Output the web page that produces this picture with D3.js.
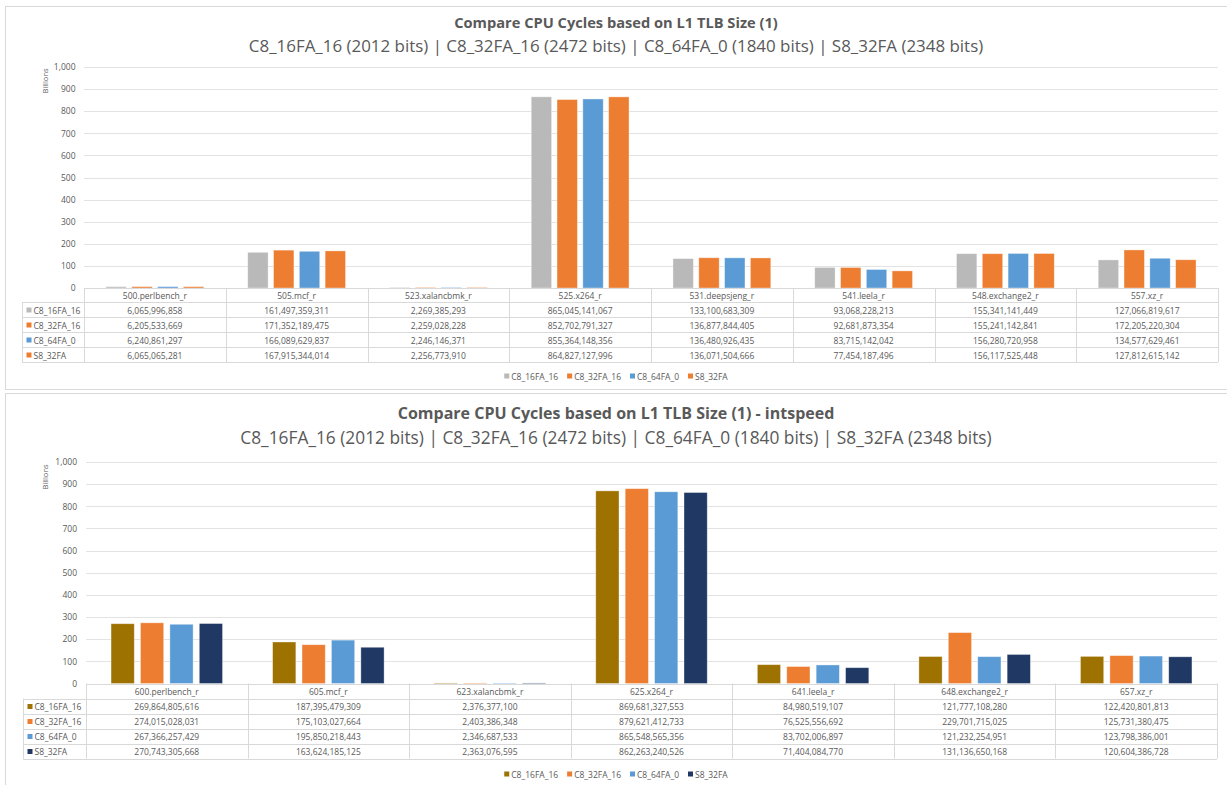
<!DOCTYPE html>
<html><head><meta charset="utf-8">
<script src="https://cdn.jsdelivr.net/npm/d3@7"></script>
<style>
body{margin:0;background:#fff}
svg{display:block}
text{font-family:"Open Sans","Noto Sans",sans-serif}
</style>
</head><body>
<svg id="c" width="1227" height="785"></svg>
<script>
// ---------------- DATA ----------------
const seriesNames = ["C8_16FA_16", "C8_32FA_16", "C8_64FA_0", "S8_32FA"];
const yTicks = [0, 100, 200, 300, 400, 500, 600, 700, 800, 900, 1000];

const rateTitle = "Compare CPU Cycles based on L1 TLB Size (1)";
const speedTitle = "Compare CPU Cycles based on L1 TLB Size (1) - intspeed";
const subTitle = "C8_16FA_16 (2012 bits) | C8_32FA_16 (2472 bits) | C8_64FA_0 (1840 bits) | S8_32FA (2348 bits)";

const rateCategories = ["500.perlbench_r", "505.mcf_r", "523.xalancbmk_r", "525.x264_r",
  "531.deepsjeng_r", "541.leela_r", "548.exchange2_r", "557.xz_r"];
const rateC8_16FA_16 = [6065996858, 161497359311, 2269385293, 865045141067, 133100683309, 93068228213, 155341141449, 127066819617];
const rateC8_32FA_16 = [6205533669, 171352189475, 2259028228, 852702791327, 136877844405, 92681873354, 155241142841, 172205220304];
const rateC8_64FA_0  = [6240861297, 166089629837, 2246146371, 855364148356, 136480926435, 83715142042, 156280720958, 134577629461];
const rateS8_32FA    = [6065065281, 167915344014, 2256773910, 864827127996, 136071504666, 77454187496, 156117525448, 127812615142];

const speedCategories = ["600.perlbench_r", "605.mcf_r", "623.xalancbmk_r", "625.x264_r",
  "641.leela_r", "648.exchange2_r", "657.xz_r"];
const speedC8_16FA_16 = [269864805616, 187395479309, 2376377100, 869681327553, 84980519107, 121777108280, 122420801813];
const speedC8_32FA_16 = [274015028031, 175103027664, 2403386348, 879621412733, 76525556692, 229701715025, 125731380475];
const speedC8_64FA_0  = [267366257429, 195850218443, 2346687533, 865548565356, 83702006897, 121232254951, 123798386001];
const speedS8_32FA    = [270743305668, 163624185125, 2363076595, 862263240526, 71404084770, 131136650168, 120604386728];

// ---------------- DRAW ----------------
const svg = d3.select("#c");
const fmt = d3.format(",");
const TXT = "#595959";
const LINE = "#D9D9D9";

function fitText(t, w) {
  const l = t.node().getComputedTextLength();
  const fs = parseFloat(t.style("font-size"));
  t.style("font-size", (fs * w / l) + "px");
}

function drawChart(cfg) {
  const g = svg.append("g");
  const values = cfg.values;
  const cats = cfg.categories;

  g.append("rect").attr("x", cfg.box[0] + 0.5).attr("y", cfg.box[1] + 0.5)
    .attr("width", cfg.box[2]).attr("height", cfg.box[3])
    .attr("fill", "none").attr("stroke", LINE);

  const t1 = g.append("text").attr("x", cfg.cx).attr("y", cfg.titleY)
    .attr("text-anchor", "middle").attr("dominant-baseline", "central")
    .attr("fill", TXT).style("font-weight", "bold").style("font-size", "14px")
    .text(cfg.title);
  fitText(t1, cfg.titleW);
  const t2 = g.append("text").attr("x", cfg.cx).attr("y", cfg.subY)
    .attr("text-anchor", "middle").attr("dominant-baseline", "central")
    .attr("fill", TXT).style("font-size", "16px")
    .text(subTitle);
  fitText(t2, cfg.subW);

  const y = d3.scaleLinear().domain([0, 1000]).range([cfg.y0, cfg.y1000]);
  const x0 = d3.scaleBand().domain(cats).range([cfg.plotL, cfg.plotR]).padding(0);
  const groupFrac = 0.69;
  const x1 = d3.scaleBand().domain(seriesNames)
    .range([0, x0.bandwidth() * groupFrac]).paddingInner(0.21).paddingOuter(0);
  const off = x0.bandwidth() * (1 - groupFrac) / 2;

  // gridlines
  g.append("g").selectAll("line").data(yTicks.filter(d => d > 0)).join("line")
    .attr("x1", cfg.plotL).attr("x2", cfg.plotR)
    .attr("y1", d => Math.round(y(d)) + 0.5).attr("y2", d => Math.round(y(d)) + 0.5)
    .attr("stroke", "#E3E3E3").attr("stroke-width", 1);

  // y axis
  const ax = d3.axisLeft(y).tickValues(yTicks).tickSize(0).tickPadding(cfg.tickPad)
    .tickFormat(fmt);
  g.append("g").attr("transform", `translate(${cfg.plotL},0)`).call(ax)
    .call(a => a.select(".domain").remove())
    .call(a => a.selectAll("text").attr("fill", TXT).style("font-size", "8.5px")
      .style("font-family", '"Open Sans","Noto Sans",sans-serif'));

  g.append("text").attr("transform", `translate(${cfg.billX},${cfg.billY}) rotate(-90)`)
    .attr("text-anchor", "middle").attr("dominant-baseline", "central")
    .attr("fill", TXT).style("font-size", "7.5px").text("Billions");

  // bars
  seriesNames.forEach((s, i) => {
    g.append("g").selectAll("rect").data(values[i].map((v, j) => ({ c: cats[j], v }))).join("rect")
      .attr("x", d => x0(d.c) + off + x1(s))
      .attr("width", x1.bandwidth())
      .attr("y", d => y(d.v / 1e9))
      .attr("height", d => y(0) - y(d.v / 1e9))
      .attr("fill", cfg.colors[i])
      .attr("stroke", "#fff").attr("stroke-opacity", 0.45).attr("stroke-width", 0.8);
  });

  // data table
  const tbl = g.append("g");
  const hTop = cfg.y0, hBot = cfg.y0 + cfg.headerH;
  const rowY = k => hBot + k * cfg.rowH;
  const tBot = rowY(seriesNames.length);
  tbl.append("line").attr("x1", cfg.plotL).attr("x2", cfg.plotR)
    .attr("y1", Math.round(hTop) + 0.5).attr("y2", Math.round(hTop) + 0.5).attr("stroke", LINE);
  for (let k = 0; k <= seriesNames.length; k++) {
    const yy = Math.round(rowY(k)) + 0.5;
    tbl.append("line").attr("x1", cfg.labelL).attr("x2", cfg.plotR)
      .attr("y1", yy).attr("y2", yy).attr("stroke", LINE);
  }
  const bounds = cats.map(c => x0(c)).concat([cfg.plotR]);
  bounds.forEach(bx => {
    tbl.append("line").attr("x1", Math.round(bx) + 0.5).attr("x2", Math.round(bx) + 0.5)
      .attr("y1", hTop).attr("y2", tBot).attr("stroke", LINE);
  });
  tbl.append("line").attr("x1", cfg.labelL + 0.5).attr("x2", cfg.labelL + 0.5)
    .attr("y1", hBot).attr("y2", tBot).attr("stroke", LINE);

  tbl.selectAll("text.h").data(cats).join("text")
    .attr("x", c => x0(c) + x0.bandwidth() / 2).attr("y", (hTop + hBot) / 2 + 0.5)
    .attr("text-anchor", "middle").attr("dominant-baseline", "central")
    .attr("fill", TXT).style("font-size", "8.5px").text(c => c);

  seriesNames.forEach((s, i) => {
    const cy = rowY(i) + cfg.rowH / 2 + 0.5;
    tbl.append("rect").attr("x", cfg.labelL + 4.5).attr("y", cy - 2.5)
      .attr("width", 5).attr("height", 5).attr("fill", cfg.colors[i]);
    tbl.append("text").attr("x", cfg.labelL + 11.5).attr("y", cy)
      .attr("dominant-baseline", "central").attr("fill", TXT)
      .style("font-size", "8.5px").text(s);
    tbl.append("g").selectAll("text").data(values[i].map((v, j) => ({ c: cats[j], v }))).join("text")
      .attr("x", d => x0(d.c) + x0.bandwidth() / 2).attr("y", cy)
      .attr("text-anchor", "middle").attr("dominant-baseline", "central")
      .attr("fill", TXT).style("font-size", "8.5px").text(d => fmt(d.v));
  });

  // legend
  const lg = g.append("g");
  const items = seriesNames.map((s, i) => {
    const it = lg.append("g");
    it.append("rect").attr("x", 0).attr("y", -2.5).attr("width", 5).attr("height", 5).attr("fill", cfg.colors[i]);
    const tx = it.append("text").attr("x", 7).attr("y", 0.5).attr("dominant-baseline", "central")
      .attr("fill", TXT).style("font-size", "8.5px").text(s);
    return { it, w: 7 + tx.node().getComputedTextLength() };
  });
  const gap = 9;
  const total = d3.sum(items, d => d.w) + gap * (items.length - 1);
  let lx = cfg.cx - total / 2;
  items.forEach(d => { d.it.attr("transform", `translate(${lx},${cfg.legendY})`); lx += d.w + gap; });
}

drawChart({
  box: [5, 6, 1225, 383], cx: 616,
  title: rateTitle, titleY: 22, titleW: 324, subY: 45, subW: 735,
  plotL: 84, plotR: 1218, y0: 288, y1000: 67, tickPad: 8.5,
  billX: 45, billY: 81,
  labelL: 22, headerH: 14, rowH: 15, legendY: 376,
  categories: rateCategories,
  values: [rateC8_16FA_16, rateC8_32FA_16, rateC8_64FA_0, rateS8_32FA],
  colors: ["#B9B9B9", "#ED7D31", "#5B9BD5", "#ED7D31"]
});

drawChart({
  box: [5, 393, 1225, 400], cx: 616,
  title: speedTitle, titleY: 413, titleW: 437, subY: 437, subW: 752,
  plotL: 86, plotR: 1217, y0: 683.5, y1000: 462, tickPad: 9,
  billX: 45, billY: 477,
  labelL: 23, headerH: 15, rowH: 15, legendY: 774,
  categories: speedCategories,
  values: [speedC8_16FA_16, speedC8_32FA_16, speedC8_64FA_0, speedS8_32FA],
  colors: ["#9E7200", "#ED7D31", "#5B9BD5", "#1F3864"]
});
</script>
</body></html>
